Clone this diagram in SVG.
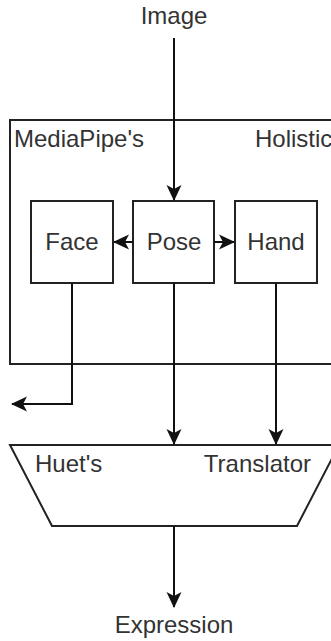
<svg xmlns="http://www.w3.org/2000/svg" width="331" height="641" viewBox="0 0 331 641">
<style>
.box{fill:#fff;stroke:#222;stroke-width:2}
.t{font-family:"Liberation Sans",Arial,sans-serif;font-size:24px;fill:#333}
.c{fill:none;stroke:#111;stroke-width:2}
</style>
<defs>
<marker id="a" markerUnits="userSpaceOnUse" viewBox="0 0 16 16" markerWidth="16" markerHeight="16" refX="15" refY="8" orient="auto">
<path d="M0,0.5 L16,8 L0,15.5 L4,8 Z" fill="#111"/>
</marker>
</defs>
<rect width="331" height="641" fill="#fff"/>
<g id="holistic">
<rect class="box" x="10" y="120" width="340" height="244"/>
<text class="t" x="14" y="147">MediaPipe's</text>
<text class="t" x="255" y="147">Holistic</text>
</g>
<g id="face">
<rect class="box" x="31" y="201" width="82" height="82"/>
<text class="t" x="72" y="250" text-anchor="middle">Face</text>
</g>
<g id="pose">
<rect class="box" x="133" y="201" width="81" height="82"/>
<text class="t" x="174" y="250" text-anchor="middle">Pose</text>
</g>
<g id="hand">
<rect class="box" x="235" y="201" width="82" height="82"/>
<text class="t" x="276" y="250" text-anchor="middle">Hand</text>
</g>
<g id="translator">
<path class="box" d="M10,445 L339,445 L297,526 L52,526 Z"/>
<text class="t" x="35" y="472">Huet's</text>
<text class="t" x="311" y="472" text-anchor="end">Translator</text>
</g>
<g id="image">
<text class="t" x="174" y="24" text-anchor="middle">Image</text>
</g>
<g id="expression">
<text class="t" x="174" y="633" text-anchor="middle">Expression</text>
</g>
<g id="connectors">
<path class="c" d="M174,38 L174,200" marker-end="url(#a)"/>
<path class="c" d="M133,242 L114,242" marker-end="url(#a)"/>
<path class="c" d="M214,242 L234,242" marker-end="url(#a)"/>
<path class="c" d="M72,283 L72,404 L12,404" marker-end="url(#a)"/>
<path class="c" d="M174,283 L174,444" marker-end="url(#a)"/>
<path class="c" d="M276,283 L276,444" marker-end="url(#a)"/>
<path class="c" d="M174,526 L174,607" marker-end="url(#a)"/>
</g>
</svg>
